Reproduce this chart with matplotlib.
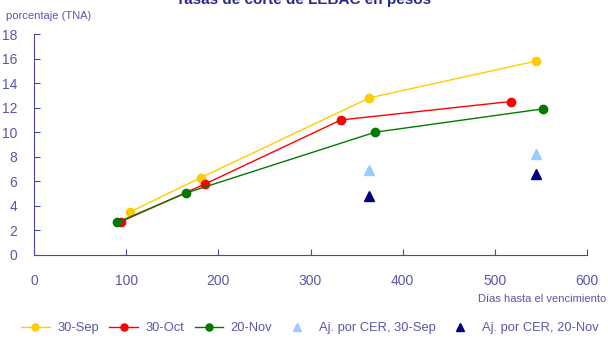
import matplotlib
matplotlib.use("Agg")
import matplotlib.pyplot as plt

# days to maturity / rate (TNA %)
sep_x = [104, 181, 364, 545]
sep_y = [3.5, 6.3, 12.8, 15.8]
oct_x = [94, 186, 333, 517]
oct_y = [2.7, 5.8, 11.0, 12.5]
nov_x = [90, 165, 370, 552]
nov_y = [2.65, 5.05, 10.0, 11.9]
cer_sep_x = [364, 545]
cer_sep_y = [6.9, 8.2]
cer_nov_x = [364, 545]
cer_nov_y = [4.8, 6.6]

txt = "#5858a8"
axc = "#4a4a9c"

plt.rcParams['font.family'] = ['Liberation Sans', 'DejaVu Sans']

fig = plt.figure(figsize=(6.08, 3.38), dpi=100)
ax = fig.add_axes([34/608, 83/338, 553/608, 221/338])

ax.plot(sep_x, sep_y, '-o', color='#ffcc00', lw=1, ms=6, label='30-Sep')
ax.plot(oct_x, oct_y, '-o', color='#ff0000', lw=1, ms=6, label='30-Oct')
ax.plot(nov_x, nov_y, '-o', color='#007a00', lw=1, ms=6, label='20-Nov')
ax.plot(cer_sep_x, cer_sep_y, '^', color='#99ccff', ms=7, ls='none', label='Aj. por CER, 30-Sep')
ax.plot(cer_nov_x, cer_nov_y, '^', color='#000080', ms=7, ls='none', label='Aj. por CER, 20-Nov')

ax.set_xlim(0, 600)
ax.set_ylim(0, 18)
ax.set_xticks(range(0, 601, 100))
ax.set_yticks(range(0, 19, 2))
for s in ['top', 'right']:
    ax.spines[s].set_visible(False)
for s in ['left', 'bottom']:
    ax.spines[s].set_color(axc)
ax.tick_params(direction='in', colors=axc, labelcolor=txt, labelsize=10, length=4)
ax.tick_params(axis='x', pad=14)
ax.tick_params(axis='y', pad=12)

fig.text(0.5, 1.0, 'Tasas de corte de LEBAC en pesos', ha='center', va='center',
         color='#2a2a8a', fontsize=11, fontweight='bold')
fig.text(6/608, 1 - 16/338, 'porcentaje (TNA)', color=txt, fontsize=8, va='center')
fig.text(606/608, 1 - 299/338, 'Días hasta el vencimiento', color=txt, fontsize=8,
         ha='right', va='center')

leg = fig.legend(loc='center', bbox_to_anchor=(0.51, 1 - 328/338), ncol=5, frameon=False,
                 fontsize=9.3, handlelength=2.2, columnspacing=0.8, handletextpad=0.6,
                 markerscale=0.85)
for t in leg.get_texts():
    t.set_color(txt)

fig.savefig('out.png', dpi=100)
